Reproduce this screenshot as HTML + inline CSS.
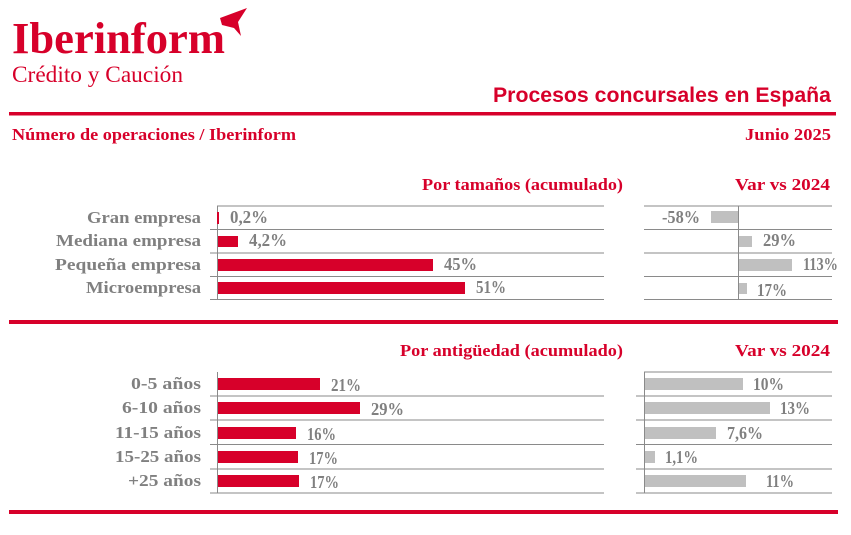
<!DOCTYPE html>
<html><head><meta charset="utf-8"><style>
body{margin:0;width:851px;height:530px;background:#fff;overflow:hidden;font-family:"Liberation Serif",serif;}
svg text{font-family:"Liberation Serif",serif;font-weight:bold;}
</style></head><body>
<svg width="851" height="530" xmlns="http://www.w3.org/2000/svg">
<text x="12" y="53" font-size="44" fill="#d7002a" textLength="213" lengthAdjust="spacingAndGlyphs">Iberinform</text>
<path d="M220 18 L247 8 L238 22 L241 36 L234 28 L222 25 Z" fill="#d7002a"/>
<text x="12" y="82" font-size="23" fill="#d7002a" style="font-weight:normal" textLength="171" lengthAdjust="spacingAndGlyphs">Crédito y Caución</text>
<text x="831" y="102" font-size="21" fill="#d7002a" text-anchor="end" style="font-family:'Liberation Sans',sans-serif" textLength="338" lengthAdjust="spacingAndGlyphs">Procesos concursales en España</text>
<rect x="9" y="112" width="827" height="3.5" fill="#d7002a"/>
<text x="12" y="140" font-size="17" fill="#d7002a" textLength="284" lengthAdjust="spacingAndGlyphs">Número de operaciones / Iberinform</text>
<text x="745" y="140" font-size="17" fill="#d7002a" textLength="86" lengthAdjust="spacingAndGlyphs">Junio 2025</text>
<text x="422" y="190" font-size="17" fill="#d7002a" textLength="201" lengthAdjust="spacingAndGlyphs">Por tamaños (acumulado)</text>
<text x="735" y="190" font-size="17" fill="#d7002a" textLength="95" lengthAdjust="spacingAndGlyphs">Var vs 2024</text>
<g stroke="#8a8a8a" stroke-width="1">
<line x1="217" y1="206" x2="604" y2="206"/><line x1="210" y1="229.5" x2="604" y2="229.5"/><line x1="210" y1="253" x2="604" y2="253"/><line x1="210" y1="276.5" x2="604" y2="276.5"/><line x1="210" y1="299.5" x2="604" y2="299.5"/>
<line x1="217.5" y1="206" x2="217.5" y2="299"/>
<line x1="644" y1="206" x2="832" y2="206"/><line x1="644" y1="229.5" x2="832" y2="229.5"/><line x1="644" y1="253" x2="832" y2="253"/><line x1="644" y1="276.5" x2="832" y2="276.5"/><line x1="644" y1="299.5" x2="832" y2="299.5"/>
<line x1="738.5" y1="206" x2="738.5" y2="299"/>
</g>
<g font-size="17" fill="#808080">
<text x="87" y="223" textLength="114" lengthAdjust="spacingAndGlyphs">Gran empresa</text>
<text x="56" y="246" textLength="145" lengthAdjust="spacingAndGlyphs">Mediana empresa</text>
<text x="55" y="270" textLength="146" lengthAdjust="spacingAndGlyphs">Pequeña empresa</text>
<text x="86" y="293" textLength="115" lengthAdjust="spacingAndGlyphs">Microempresa</text>
</g>
<g fill="#d7002a"><rect x="217" y="212" width="2" height="12"/><rect x="218" y="236" width="20" height="11"/><rect x="218" y="259" width="215" height="12"/><rect x="218" y="282" width="247" height="12"/></g>
<g font-size="18" fill="#808080">
<text x="230" y="223" textLength="38" lengthAdjust="spacingAndGlyphs">0,2%</text>
<text x="249" y="246" textLength="38" lengthAdjust="spacingAndGlyphs">4,2%</text>
<text x="444" y="270" textLength="33" lengthAdjust="spacingAndGlyphs">45%</text>
<text x="476" y="293" textLength="30" lengthAdjust="spacingAndGlyphs">51%</text>
<text x="662" y="223" textLength="38" lengthAdjust="spacingAndGlyphs">-58%</text>
<text x="763" y="246" textLength="33" lengthAdjust="spacingAndGlyphs">29%</text>
<text x="803" y="270" textLength="35" lengthAdjust="spacingAndGlyphs">113%</text>
<text x="757" y="296" textLength="30" lengthAdjust="spacingAndGlyphs">17%</text>
</g>
<g fill="#c0c0c0"><rect x="711" y="211" width="27" height="12"/><rect x="739" y="236" width="13" height="11"/><rect x="739" y="259" width="53" height="12"/><rect x="739" y="283" width="8" height="11"/></g>
<rect x="9" y="320" width="829" height="4" fill="#d7002a"/>
<text x="400" y="356" font-size="17" fill="#d7002a" textLength="223" lengthAdjust="spacingAndGlyphs">Por antigüedad (acumulado)</text>
<text x="735" y="356" font-size="17" fill="#d7002a" textLength="95" lengthAdjust="spacingAndGlyphs">Var vs 2024</text>
<g stroke="#8a8a8a" stroke-width="1">
<line x1="210" y1="396" x2="604" y2="396"/><line x1="210" y1="420" x2="604" y2="420"/><line x1="210" y1="444.5" x2="604" y2="444.5"/><line x1="210" y1="469" x2="604" y2="469"/><line x1="210" y1="493" x2="604" y2="493"/>
<line x1="217.5" y1="372" x2="217.5" y2="493"/>
<line x1="644" y1="372" x2="832" y2="372"/><line x1="636" y1="396" x2="832" y2="396"/><line x1="636" y1="420" x2="832" y2="420"/><line x1="636" y1="444.5" x2="832" y2="444.5"/><line x1="636" y1="469" x2="832" y2="469"/><line x1="636" y1="493" x2="832" y2="493"/>
<line x1="644.5" y1="372" x2="644.5" y2="493"/>
</g>
<g font-size="17" fill="#808080">
<text x="131" y="389" textLength="70" lengthAdjust="spacingAndGlyphs">0-5 años</text>
<text x="122" y="413" textLength="79" lengthAdjust="spacingAndGlyphs">6-10 años</text>
<text x="115" y="438" textLength="86" lengthAdjust="spacingAndGlyphs">11-15 años</text>
<text x="115" y="462" textLength="86" lengthAdjust="spacingAndGlyphs">15-25 años</text>
<text x="128" y="486" textLength="73" lengthAdjust="spacingAndGlyphs">+25 años</text>
</g>
<g fill="#d7002a"><rect x="218" y="378" width="102" height="12"/><rect x="218" y="402" width="142" height="12"/><rect x="218" y="427" width="78" height="12"/><rect x="218" y="451" width="80" height="12"/><rect x="218" y="475" width="81" height="12"/></g>
<g font-size="18" fill="#808080">
<text x="331" y="391" textLength="30" lengthAdjust="spacingAndGlyphs">21%</text>
<text x="371" y="415" textLength="33" lengthAdjust="spacingAndGlyphs">29%</text>
<text x="307" y="440" textLength="29" lengthAdjust="spacingAndGlyphs">16%</text>
<text x="309" y="464" textLength="29" lengthAdjust="spacingAndGlyphs">17%</text>
<text x="310" y="488" textLength="29" lengthAdjust="spacingAndGlyphs">17%</text>
<text x="753" y="390" textLength="31" lengthAdjust="spacingAndGlyphs">10%</text>
<text x="780" y="414" textLength="30" lengthAdjust="spacingAndGlyphs">13%</text>
<text x="727" y="439" textLength="36" lengthAdjust="spacingAndGlyphs">7,6%</text>
<text x="665" y="463" textLength="33" lengthAdjust="spacingAndGlyphs">1,1%</text>
<text x="766" y="487" textLength="28" lengthAdjust="spacingAndGlyphs">11%</text>
</g>
<g fill="#c0c0c0"><rect x="645" y="378" width="98" height="12"/><rect x="645" y="402" width="125" height="12"/><rect x="645" y="427" width="71" height="12"/><rect x="645" y="451" width="10" height="12"/><rect x="645" y="475" width="101" height="12"/></g>
<rect x="9" y="510" width="829" height="4" fill="#d7002a"/>
</svg>
</body></html>
